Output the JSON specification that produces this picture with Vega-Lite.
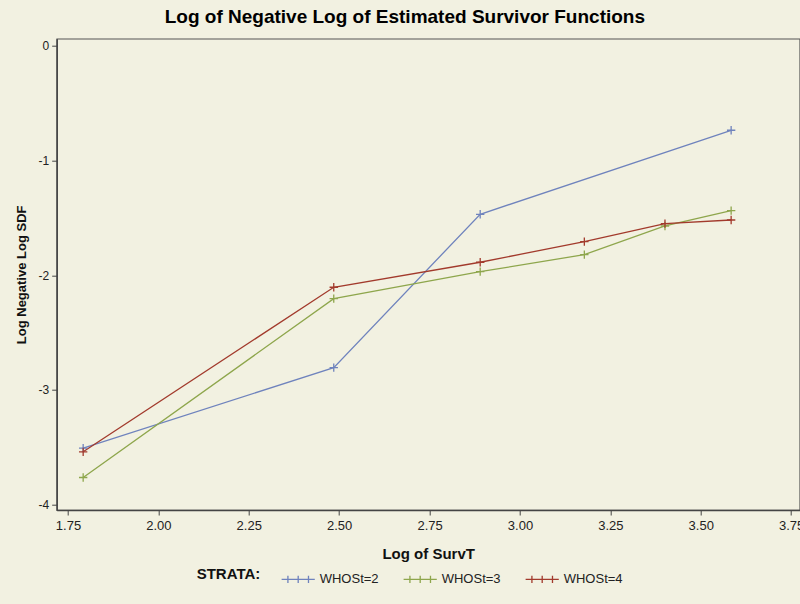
{
  "$schema": "https://vega.github.io/schema/vega-lite/v6.json",
  "autosize": {"type": "none"},
  "padding": {"left": 56.7, "top": 38.7, "right": 0.3, "bottom": 94},
  "width": 743,
  "height": 471.3,
  "background": "#f2f1e1",
  "config": {
    "view": {"stroke": "#555555", "strokeWidth": 1.2, "fill": "#f2f1e1"},
    "font": "Liberation Sans"
  },
  "title": {
    "text": "Log of Negative Log of Estimated Survivor Functions",
    "anchor": "start",
    "frame": "group",
    "dx": 108,
    "offset": 12,
    "fontSize": 19,
    "fontWeight": "bold",
    "font": "Liberation Sans",
    "color": "#000000"
  },
  "data": {
    "values": [
      {"t": 1.792, "y": -3.507, "s": "WHOSt=2"},
      {"t": 2.485, "y": -2.805, "s": "WHOSt=2"},
      {"t": 2.890, "y": -1.469, "s": "WHOSt=2"},
      {"t": 3.584, "y": -0.737, "s": "WHOSt=2"},
      {"t": 1.792, "y": -3.763, "s": "WHOSt=3"},
      {"t": 2.485, "y": -2.204, "s": "WHOSt=3"},
      {"t": 2.890, "y": -1.969, "s": "WHOSt=3"},
      {"t": 3.178, "y": -1.821, "s": "WHOSt=3"},
      {"t": 3.401, "y": -1.571, "s": "WHOSt=3"},
      {"t": 3.584, "y": -1.437, "s": "WHOSt=3"},
      {"t": 1.792, "y": -3.539, "s": "WHOSt=4"},
      {"t": 2.485, "y": -2.105, "s": "WHOSt=4"},
      {"t": 2.890, "y": -1.887, "s": "WHOSt=4"},
      {"t": 3.178, "y": -1.707, "s": "WHOSt=4"},
      {"t": 3.401, "y": -1.551, "s": "WHOSt=4"},
      {"t": 3.584, "y": -1.519, "s": "WHOSt=4"}
    ]
  },
  "encoding": {
    "x": {
      "field": "t", "type": "quantitative",
      "scale": {"domain": [1.7188, 3.7736], "nice": false, "zero": false},
      "axis": {
        "title": "Log of SurvT",
        "values": [1.75, 2.0, 2.25, 2.5, 2.75, 3.0, 3.25, 3.5, 3.75],
        "format": ".2f",
        "grid": false,
        "domainColor": "#444444", "domainWidth": 1.5,
        "tickColor": "#444444", "tickSize": 5, "tickWidth": 1,
        "labelFont": "Liberation Sans Narrow, Liberation Sans", "labelFontSize": 13, "labelColor": "#222222",
        "labelPadding": 4, "labelFlush": false,
        "titleFont": "Liberation Sans Narrow, Liberation Sans", "titleFontSize": 15, "titleFontWeight": "bold",
        "titleColor": "#111111", "titlePadding": 14
      }
    },
    "y": {
      "field": "y", "type": "quantitative",
      "scale": {"domain": [-4.046, 0.061], "nice": false, "zero": false},
      "axis": {
        "title": "Log Negative Log SDF",
        "values": [-4, -3, -2, -1, 0],
        "labelExpr": "'' + datum.value",
        "grid": false,
        "domainColor": "#444444", "domainWidth": 1.5,
        "tickColor": "#444444", "tickSize": 5, "tickWidth": 1,
        "labelFont": "Liberation Sans Narrow, Liberation Sans", "labelFontSize": 12, "labelColor": "#222222",
        "labelPadding": 3,
        "titleFont": "Liberation Sans", "titleFontSize": 13, "titleFontWeight": "bold",
        "titleColor": "#111111", "titlePadding": 10
      }
    },
    "color": {
      "field": "s", "type": "nominal",
      "scale": {"domain": ["WHOSt=2", "WHOSt=3", "WHOSt=4"], "range": ["#6f83bd", "#8ea64c", "#a23a2c"]}
    }
  },
  "layer": [
    {
      "mark": {"type": "line", "strokeWidth": 1.3},
      "encoding": {
        "color": {
          "field": "s", "type": "nominal",
          "scale": {"domain": ["WHOSt=2", "WHOSt=3", "WHOSt=4"], "range": ["#6f83bd", "#8ea64c", "#a23a2c"]},
          "legend": {
            "title": "STRATA:",
            "orient": "none",
            "legendX": 140,
            "legendY": 523,
            "direction": "horizontal",
            "titleOrient": "left",
            "titleAnchor": "middle",
            "titleBaseline": "middle",
            "titleFont": "Liberation Sans Narrow, Liberation Sans",
            "titleFontSize": 15,
            "titleFontWeight": "bold",
            "titleColor": "#111111",
            "titlePadding": 20,
            "labelFont": "Liberation Sans Narrow, Liberation Sans",
            "labelFontSize": 13,
            "labelColor": "#222222",
            "symbolType": "M-1,0H1M-0.62,-0.22V0.22M0,-0.22V0.22M0.62,-0.22V0.22",
            "symbolSize": 1100,
            "symbolStrokeWidth": 1.3,
            "columnPadding": 22,
            "labelOffset": 4
          }
        }
      }
    },
    {
      "mark": {"type": "point", "shape": "M-1,0H1M0,-1V1", "filled": false, "size": 70, "strokeWidth": 1.3, "opacity": 1},
      "encoding": {
        "color": {
          "field": "s", "type": "nominal",
          "scale": {"domain": ["WHOSt=2", "WHOSt=3", "WHOSt=4"], "range": ["#6f83bd", "#8ea64c", "#a23a2c"]},
          "legend": null
        }
      }
    }
  ]
}
